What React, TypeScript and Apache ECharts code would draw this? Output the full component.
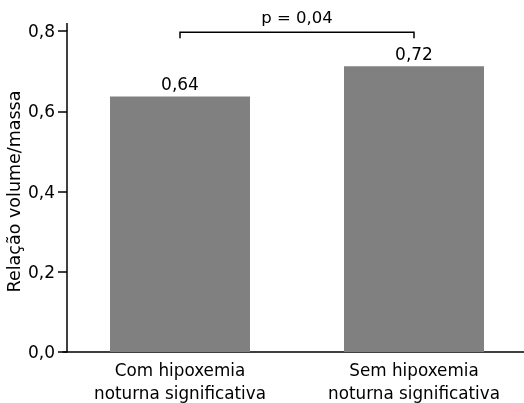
import React, { useEffect, useRef } from "react";
import * as echarts from "echarts";

const categories = ["Com hipoxemia\nnoturna significativa", "Sem hipoxemia\nnoturna significativa"];
const values = [0.637, 0.712];
const valueLabels = ["0,64", "0,72"];
const yTicks = { min: 0, max: 0.8, interval: 0.2 };
const bracket = { from: 0, to: 1, level: 0.797, leg: 0.782, text: "p = 0,04" };
const yName = "Relação volume/massa";

const FONT = "DejaVu Sans";

export default function App() {
  const ref = useRef<HTMLDivElement>(null);
  useEffect(() => {
    const chart = echarts.init(ref.current!, null, { renderer: "svg" });
    chart.setOption({
      animation: false,
      grid: { left: 63, top: 31, width: 468, bottom: 51, outerBoundsMode: "none", containLabel: false },
      xAxis: {
        type: "category",
        data: categories,
        axisLine: { lineStyle: { color: "#000", width: 1.5 } },
        axisTick: { show: false },
        axisLabel: { color: "#000", fontFamily: FONT, fontSize: 16.8, lineHeight: 23, margin: 6 },
      },
      yAxis: {
        type: "value",
        min: yTicks.min,
        max: yTicks.max,
        interval: yTicks.interval,
        offset: -4,
        name: yName,
        nameLocation: "middle",
        nameGap: 44,
        nameMoveOverlap: false,
        nameTextStyle: { color: "#000", fontFamily: FONT, fontSize: 17.5 },
        splitLine: { show: false },
        axisLine: { show: true, lineStyle: { color: "#000", width: 1.5 } },
        axisTick: { show: true, length: 9, lineStyle: { color: "#000", width: 1.5 } },
        axisLabel: {
          color: "#000",
          fontFamily: FONT,
          fontSize: 17,
          margin: 12,
          formatter: (v: number) => v.toFixed(1).replace(".", ","),
        },
      },
      series: [
        {
          type: "bar",
          data: values,
          barWidth: 140,
          itemStyle: { color: "#808080" },
          label: {
            show: true,
            position: "top",
            distance: 4,
            color: "#000",
            fontFamily: FONT,
            fontSize: 17,
            formatter: (p: any) => valueLabels[p.dataIndex],
          },
        },
      ],
    });
    const p1 = chart.convertToPixel({ gridIndex: 0 }, [bracket.from, bracket.level]);
    const p2 = chart.convertToPixel({ gridIndex: 0 }, [bracket.to, bracket.level]);
    const legY = chart.convertToPixel({ gridIndex: 0 }, [bracket.from, bracket.leg])[1];
    const top = chart.convertToPixel({ gridIndex: 0 }, [0, yTicks.max]);
    chart.setOption({
      graphic: [
        {
          type: "line",
          shape: { x1: 67, y1: top[1] - 8, x2: 67, y2: top[1] },
          style: { stroke: "#000", lineWidth: 1.5 },
        },
        {
          type: "polyline",
          shape: { points: [[p1[0], legY], [p1[0], p1[1]], [p2[0], p2[1]], [p2[0], legY]] },
          style: { stroke: "#000", lineWidth: 1.5, fill: null },
        },
        {
          type: "text",
          x: (p1[0] + p2[0]) / 2,
          y: p1[1] - 6,
          style: {
            text: bracket.text,
            fill: "#000",
            font: `16.5px "${FONT}"`,
            textAlign: "center",
            textVerticalAlign: "bottom",
          },
        },
      ],
    });
    return () => chart.dispose();
  }, []);
  return <div ref={ref} style={{ position: "fixed", left: 0, top: 0, width: 524, height: 403 }} />;
}
